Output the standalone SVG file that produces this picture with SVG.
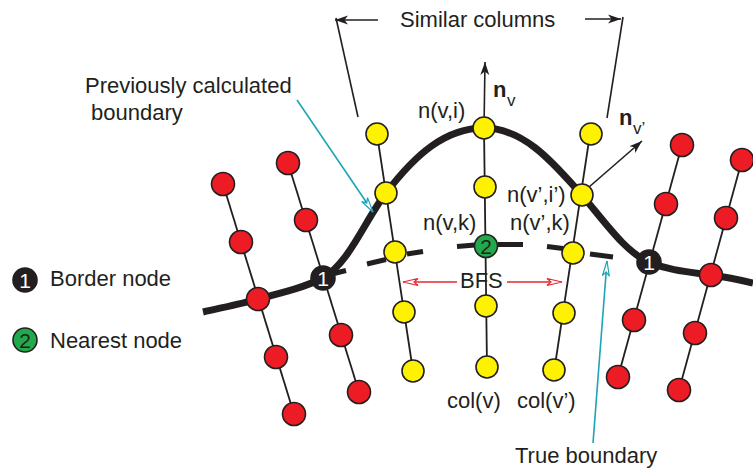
<svg xmlns="http://www.w3.org/2000/svg" width="753" height="475" viewBox="0 0 753 475">
<style>
.red{fill:#ed1c24;stroke:#231f20;stroke-width:1.6}
.yel{fill:#fff200;stroke:#231f20;stroke-width:1.6}
.blk{fill:#231f20;stroke:#231f20;stroke-width:1.6}
.grn{fill:#22a94b;stroke:#231f20;stroke-width:1.6}
.col{fill:none;stroke:#231f20;stroke-width:1.8}
.thin{fill:none;stroke:#231f20;stroke-width:1.6}
.t{font-family:"Liberation Sans",Arial,sans-serif;font-size:22px;fill:#231f20}
.b{font-family:"Liberation Sans",Arial,sans-serif;font-weight:bold;font-size:22px;fill:#231f20}
.s{font-family:"Liberation Sans",Arial,sans-serif;font-size:17px;fill:#231f20}
.num{font-family:"Liberation Sans",Arial,sans-serif;font-size:21px;text-anchor:middle}
</style>
<defs>
<marker id="ak" markerUnits="userSpaceOnUse" markerWidth="14" markerHeight="10" refX="13" refY="5" orient="auto">
<path d="M0,0.5 L13,5 L0,9.5 L3.5,5 z" fill="#231f20"/>
</marker>
<marker id="ar" markerUnits="userSpaceOnUse" markerWidth="18" markerHeight="10" refX="16" refY="5" orient="auto">
<path d="M1,1.5 L16,5 L1,8.5 L5,5 z" fill="#fff" stroke="#e8262a" stroke-width="1.2"/>
</marker>
<marker id="ac" markerUnits="userSpaceOnUse" markerWidth="18" markerHeight="10" refX="16" refY="5" orient="auto">
<path d="M1,1.5 L16,5 L1,8.5 L5,5 z" fill="#fff" stroke="#1ba5b8" stroke-width="1.2"/>
</marker>
</defs>
<g id="connectors">
<polyline class="col" points="223,184 294,414"/>
<polyline class="col" points="288,163 359,392"/>
<polyline class="col" points="377,134 413,371"/>
<polyline class="col" points="484,128 487,367"/>
<polyline class="col" points="590,134 554,372"/>
<polyline class="col" points="682,145 618,377"/>
<polyline class="col" points="742,160 679,390"/>
<path d="M203,312 C225,307 245,303 258,299 C285,292 305,287 323,278 C350,262 365,220 386,193 C415,155 445,128 484,128 C525,128 555,165 581,194 C605,222 625,252 649,262 C670,271 690,272 711,275 C725,277 740,280 753,283" fill="none" stroke="#231f20" stroke-width="7"/>
<path d="M330,274.5 L346,270.5 M367,264 L386,259.5 M407,254 L423,251.5 M457,246.5 L475,245 M498,244.5 L523,244.5 M547,246.5 L563,248.5 M590,254 L613,257" fill="none" stroke="#231f20" stroke-width="5"/>
<line class="thin" x1="484" y1="128" x2="485" y2="62" marker-end="url(#ak)"/>
<line class="thin" x1="581" y1="194" x2="642" y2="141" marker-end="url(#ak)"/>
<line class="thin" x1="378" y1="20" x2="335" y2="20" marker-end="url(#ak)"/>
<line class="thin" x1="585" y1="19" x2="621" y2="19" marker-end="url(#ak)"/>
<line class="thin" x1="336" y1="18" x2="358" y2="117"/>
<line class="thin" x1="623" y1="17" x2="607" y2="118"/>
<line x1="457" y1="282" x2="403" y2="282" stroke="#e8262a" stroke-width="1.6" marker-end="url(#ar)"/>
<line x1="507" y1="282" x2="562" y2="282" stroke="#e8262a" stroke-width="1.6" marker-end="url(#ar)"/>
<line x1="297" y1="100" x2="373" y2="212" stroke="#1ba5b8" stroke-width="1.6" marker-end="url(#ac)"/>
<line x1="593" y1="443" x2="607" y2="261" stroke="#1ba5b8" stroke-width="1.6" marker-end="url(#ac)"/>
</g>
<g id="col1">
<g id="c1n1"><circle class="red" cx="223" cy="184" r="11.5"/></g>
<g id="c1n2"><circle class="red" cx="241" cy="242" r="11.5"/></g>
<g id="c1n3"><circle class="red" cx="258" cy="299" r="11.5"/></g>
<g id="c1n4"><circle class="red" cx="276" cy="357" r="11.5"/></g>
<g id="c1n5"><circle class="red" cx="294" cy="414" r="11.5"/></g>
</g>
<g id="col2">
<g id="c2n1"><circle class="red" cx="288" cy="163" r="11.5"/></g>
<g id="c2n2"><circle class="red" cx="306" cy="220" r="11.5"/></g>
<g id="c2n3"><circle class="blk" cx="323" cy="278" r="12"/><text class="num" x="323" y="285.5" fill="#fff">1</text></g>
<g id="c2n4"><circle class="red" cx="341" cy="335" r="11.5"/></g>
<g id="c2n5"><circle class="red" cx="359" cy="392" r="11.5"/></g>
</g>
<g id="col3">
<g id="c3n1"><circle class="yel" cx="377" cy="134" r="11"/></g>
<g id="c3n2"><circle class="yel" cx="386" cy="193" r="11"/></g>
<g id="c3n3"><circle class="yel" cx="395" cy="252" r="11"/></g>
<g id="c3n4"><circle class="yel" cx="404" cy="312" r="11"/></g>
<g id="c3n5"><circle class="yel" cx="413" cy="371" r="11"/></g>
</g>
<g id="col4">
<g id="c4n1"><circle class="yel" cx="484" cy="128" r="11"/></g>
<g id="c4n2"><circle class="yel" cx="485" cy="187" r="11"/></g>
<g id="c4n3"><circle class="grn" cx="486" cy="246" r="11.5"/><text class="num" x="486" y="253.5" fill="#231f20">2</text></g>
<g id="c4n4"><circle class="yel" cx="486" cy="306" r="11"/></g>
<g id="c4n5"><circle class="yel" cx="487" cy="367" r="11"/></g>
</g>
<g id="col5">
<g id="c5n1"><circle class="yel" cx="591" cy="134" r="11"/></g>
<g id="c5n2"><circle class="yel" cx="582" cy="195" r="11"/></g>
<g id="c5n3"><circle class="yel" cx="573" cy="253" r="11"/></g>
<g id="c5n4"><circle class="yel" cx="564" cy="313" r="11"/></g>
<g id="c5n5"><circle class="yel" cx="554" cy="370" r="11"/></g>
</g>
<g id="col6">
<g id="c6n1"><circle class="red" cx="682" cy="145" r="11.5"/></g>
<g id="c6n2"><circle class="red" cx="666" cy="204" r="11.5"/></g>
<g id="c6n3"><circle class="blk" cx="649" cy="262" r="12"/><text class="num" x="649" y="269.5" fill="#fff">1</text></g>
<g id="c6n4"><circle class="red" cx="634" cy="320" r="11.5"/></g>
<g id="c6n5"><circle class="red" cx="618" cy="377" r="11.5"/></g>
</g>
<g id="col7">
<g id="c7n1"><circle class="red" cx="742" cy="160" r="11.5"/></g>
<g id="c7n2"><circle class="red" cx="726" cy="218" r="11.5"/></g>
<g id="c7n3"><circle class="red" cx="711" cy="275" r="11.5"/></g>
<g id="c7n4"><circle class="red" cx="695" cy="333" r="11.5"/></g>
<g id="c7n5"><circle class="red" cx="679" cy="390" r="11.5"/></g>
</g>
<g id="legend">
<g id="leg1"><circle class="blk" cx="25" cy="280" r="12"/><text class="num" x="25" y="287.5" fill="#fff">1</text><text class="t" x="50" y="286">Border node</text></g>
<g id="leg2"><circle class="grn" cx="25" cy="340" r="12"/><text class="num" x="25" y="347.5" fill="#231f20">2</text><text class="t" x="50" y="348">Nearest node</text></g>
</g>
<g id="labels">
<text class="t" x="400" y="27">Similar columns</text>
<text class="t" x="85" y="93">Previously calculated</text>
<text class="t" x="91" y="120">boundary</text>
<text class="t" x="418" y="118">n(v,i)</text>
<text class="b" x="493" y="97">n</text><text class="s" x="507" y="106">v</text>
<text class="b" x="619" y="125">n</text><text class="s" x="633" y="134">v’</text>
<text class="t" x="507" y="202">n(v’,i’)</text>
<text class="t" x="423" y="230">n(v,k)</text>
<text class="t" x="510" y="230">n(v’,k)</text>
<text class="t" x="460" y="288">BFS</text>
<text class="t" x="447" y="408">col(v)</text>
<text class="t" x="517" y="408">col(v’)</text>
<text class="t" x="515" y="463">True boundary</text>
</g>
</svg>
